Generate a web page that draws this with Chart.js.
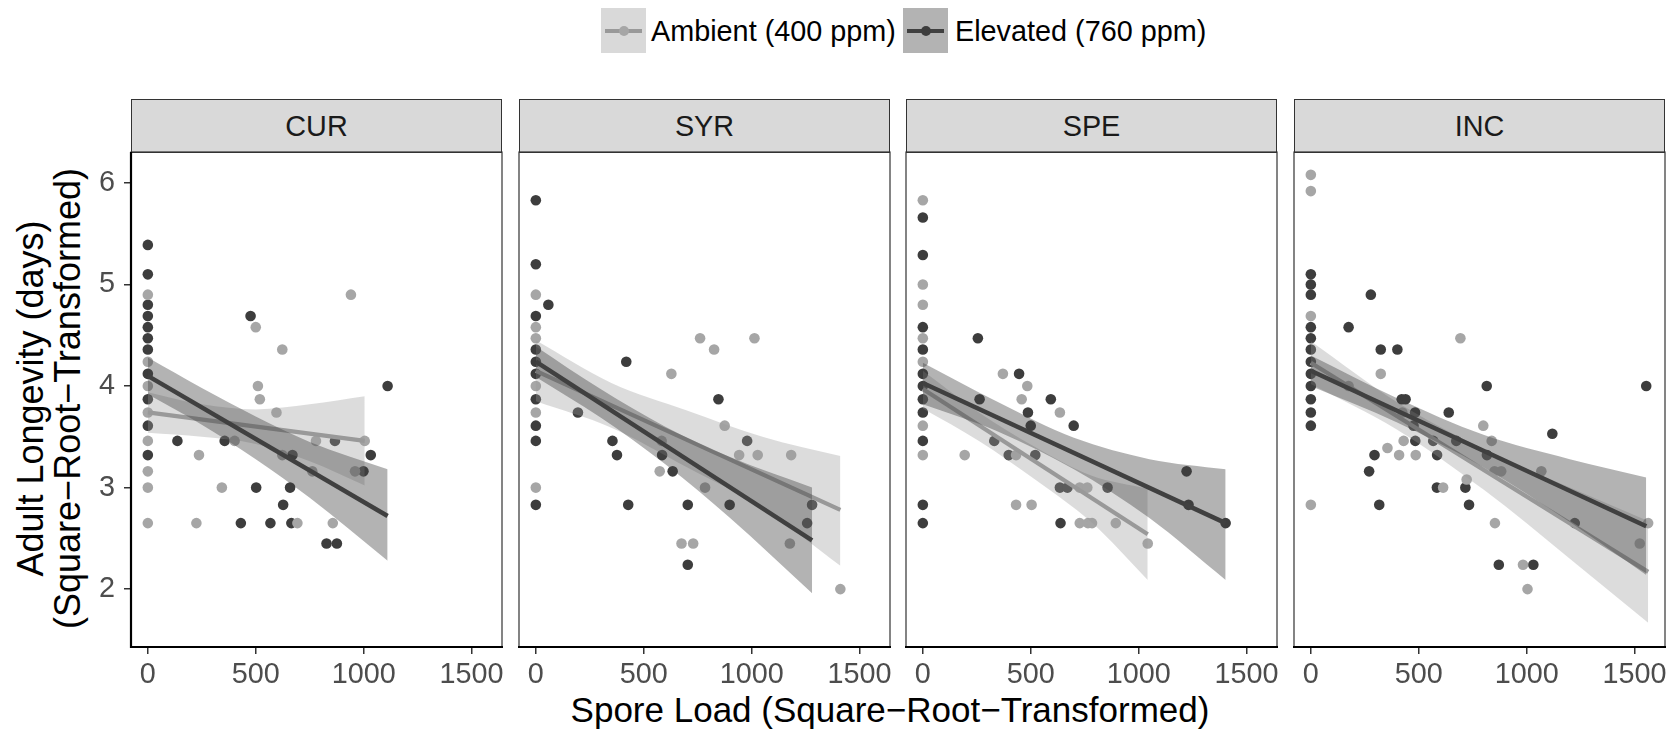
<!DOCTYPE html>
<html>
<head>
<meta charset="utf-8">
<script src="https://cdn.jsdelivr.net/npm/chart.js@4.4.1/dist/chart.umd.min.js"></script>
<style>
  body { margin: 0; background: #fff; }
  #fig { position: relative; width: 1679px; height: 733px; overflow: hidden;
         font-family: "Liberation Sans", Arial, sans-serif; }
  #fig canvas { position: absolute; }
  .key { position: absolute; top: 8px; width: 45px; height: 45px; }
  .key i { position: absolute; left: 4px; right: 4px; top: 20.5px; height: 4px; }
  .key b { position: absolute; left: 17.5px; top: 17.5px; width: 10px; height: 10px; border-radius: 50%; }
  .ltxt { position: absolute; top: 14px; font-size: 28.8px; line-height: 34px; color: #000; white-space: nowrap; }
  .strip { position: absolute; top: 99px; height: 54px; width: 371px; box-sizing: border-box;
           background: #d9d9d9; border: 1px solid #333; text-align: center;
           font-size: 28.8px; line-height: 52px; color: #1a1a1a; }
  #xtitle { position: absolute; left: 390px; width: 1000px; top: 690px; text-align: center;
            font-size: 35px; line-height: 40px; color: #000; white-space: nowrap; }
  #ytitle { position: absolute; left: -201px; top: 362px; width: 500px; height: 73px;
            text-align: center; font-size: 36px; line-height: 36.5px; color: #000;
            white-space: nowrap; transform: rotate(-90deg); }
</style>
</head>
<body>
<div id="fig">
  <div class="key" style="left:601px;background:#d9d9d9"><i style="background:#999"></i><b style="background:#a6a6a6"></b></div>
  <div class="ltxt" style="left:651px">Ambient (400 ppm)</div>
  <div class="key" style="left:903px;background:#b3b3b3"><i style="background:#404040"></i><b style="background:#3d3d3d"></b></div>
  <div class="ltxt" style="left:955px">Elevated (760 ppm)</div>
  <div id="xtitle">Spore Load (Square−Root−Transformed)</div>
  <div id="ytitle">Adult Longevity (days)<br>(Square−Root−Transformed)</div>
</div>
<script>
const panelNames = ['CUR', 'SYR', 'SPE', 'INC'];
const xTicks = [0, 500, 1000, 1500];
const yTicks = [2, 3, 4, 5, 6];

// CUR
const curAmbX = [0,0,0,0,0,0,0,0, 225,237,343,402,500,510,519,596,623,623,693,762,779,857,941,960,1005];
const curAmbY = [4.90,4.24,4.00,3.74,3.46,3.16,3.00,2.65, 2.65,3.32,3.00,3.46,4.58,4.00,3.87,3.74,4.36,3.32,2.65,3.16,3.46,2.65,4.90,3.16,3.46];
const curElvX = [0,0,0,0,0,0,0,0,0,0,0, 137,356,431,476,502,568,627,659,665,670,828,867,876,999,1033,1111];
const curElvY = [5.39,5.10,4.80,4.69,4.58,4.47,4.36,4.12,3.87,3.61,3.32, 3.46,3.46,2.65,4.69,3.00,2.65,2.83,3.00,2.65,3.32,2.45,3.46,2.45,3.16,3.32,4.00];
const curAmbFitX = [0, 1005], curAmbFitY = [3.74, 3.46];
const curElvFitX = [0, 1111], curElvFitY = [4.10, 2.72];
const curAmbBandX = [0, 250, 500, 750, 1005];
const curAmbUpper = [3.94, 3.82, 3.77, 3.82, 3.90];
const curAmbLower = [3.54, 3.50, 3.43, 3.26, 3.02];
const curElvBandX = [0, 250, 500, 750, 1111];
const curElvUpper = [4.28, 3.98, 3.70, 3.45, 3.18];
const curElvLower = [3.92, 3.62, 3.28, 2.90, 2.28];

// SYR
const syrAmbX = [0,0,0,0,0,0, 574,583,628,675,729,761,784,826,875,942,1013,1028,1177,1183,1411];
const syrAmbY = [4.90,4.58,4.47,4.00,3.74,3.00, 3.16,3.46,4.12,2.45,2.45,4.47,3.00,4.36,3.61,3.32,4.47,3.32,2.45,3.32,2.00];
const syrElvX = [0,0,0,0,0,0,0,0,0,0, 58,195,355,376,419,428,585,634,704,704,846,898,979,1257,1280];
const syrElvY = [5.83,5.20,4.69,4.36,4.24,4.12,3.87,3.61,3.46,2.83, 4.80,3.74,3.46,3.32,4.24,2.83,3.32,3.16,2.83,2.24,3.87,2.83,3.46,2.65,2.83];
const syrAmbFitX = [0, 1411], syrAmbFitY = [4.15, 2.78];
const syrElvFitX = [0, 1280], syrElvFitY = [4.24, 2.48];
const syrAmbBandX = [0, 350, 700, 1050, 1411];
const syrAmbUpper = [4.45, 4.03, 3.76, 3.50, 3.31];
const syrAmbLower = [3.85, 3.59, 3.20, 2.80, 2.23];
const syrElvBandX = [0, 300, 600, 900, 1280];
const syrElvUpper = [4.39, 3.97, 3.60, 3.30, 3.00];
const syrElvLower = [4.09, 3.69, 3.23, 2.70, 1.96];

// SPE
const speAmbX = [0,0,0,0,0,0,0, 194,371,432,432,458,484,504,635,727,727,762,765,784,894,1042];
const speAmbY = [5.83,5.00,4.80,4.47,4.24,3.61,3.32, 3.32,4.12,3.32,2.83,3.87,4.00,2.83,3.74,3.00,2.65,3.00,2.65,2.65,2.65,2.45];
const speElvX = [0,0,0,0,0,0,0,0,0,0,0, 255,263,331,398,446,487,500,521,593,635,638,670,699,856,1222,1231,1403];
const speElvY = [5.66,5.29,4.58,4.36,4.12,4.00,3.87,3.74,3.46,2.83,2.65, 4.47,3.87,3.46,3.32,4.12,3.74,3.61,3.32,3.87,3.00,2.65,3.00,3.61,3.00,3.16,2.83,2.65];
const speAmbFitX = [0, 1042], speAmbFitY = [3.97, 2.54];
const speElvFitX = [0, 1403], speElvFitY = [4.03, 2.65];
const speAmbBandX = [0, 260, 520, 780, 1042];
const speAmbUpper = [4.15, 3.74, 3.40, 3.12, 2.99];
const speAmbLower = [3.78, 3.46, 3.08, 2.66, 2.09];
const speElvBandX = [0, 350, 700, 1050, 1403];
const speElvUpper = [4.23, 3.84, 3.49, 3.28, 3.18];
const speElvLower = [3.82, 3.55, 3.18, 2.70, 2.09];

// INC
const incAmbX = [0,0,0,0, 175,324,355,409,424,430,486,613,693,722,799,838,851,853,882,983,1004,1068,1524,1563];
const incAmbY = [6.08,5.92,4.69,2.83, 4.00,4.12,3.39,3.32,3.74,3.46,3.32,3.00,4.47,3.08,3.61,3.46,3.16,2.65,3.16,2.24,2.00,3.16,2.45,2.65];
const incElvX = [0,0,0,0,0,0,0,0,0,0,0,0, 175,270,278,295,317,324,401,421,439,476,483,484,567,584,585,639,674,716,733,815,816,871,1031,1119,1223,1554];
const incElvY = [5.10,5.00,4.90,4.58,4.47,4.36,4.24,4.12,4.00,3.87,3.74,3.61, 4.58,3.16,4.90,3.32,2.83,4.36,4.36,3.87,3.87,3.61,3.74,3.46,3.46,3.00,3.32,3.74,3.46,3.00,2.83,4.00,3.32,2.24,2.24,3.53,2.65,4.00];
const incAmbFitX = [0, 1563], incAmbFitY = [4.23, 2.17];
const incElvFitX = [0, 1554], incElvFitY = [4.15, 2.62];
const incAmbBandX = [0, 400, 800, 1200, 1563];
const incAmbUpper = [4.44, 3.84, 3.38, 3.00, 2.67];
const incAmbLower = [4.02, 3.57, 2.98, 2.30, 1.67];
const incElvBandX = [0, 400, 800, 1200, 1554];
const incElvUpper = [4.30, 3.88, 3.52, 3.28, 3.10];
const incElvLower = [4.00, 3.64, 3.20, 2.66, 2.14];

const panels = [
  { ambX: curAmbX, ambY: curAmbY, elvX: curElvX, elvY: curElvY,
    ambFitX: curAmbFitX, ambFitY: curAmbFitY, elvFitX: curElvFitX, elvFitY: curElvFitY,
    ambBandX: curAmbBandX, ambUp: curAmbUpper, ambLo: curAmbLower,
    elvBandX: curElvBandX, elvUp: curElvUpper, elvLo: curElvLower },
  { ambX: syrAmbX, ambY: syrAmbY, elvX: syrElvX, elvY: syrElvY,
    ambFitX: syrAmbFitX, ambFitY: syrAmbFitY, elvFitX: syrElvFitX, elvFitY: syrElvFitY,
    ambBandX: syrAmbBandX, ambUp: syrAmbUpper, ambLo: syrAmbLower,
    elvBandX: syrElvBandX, elvUp: syrElvUpper, elvLo: syrElvLower },
  { ambX: speAmbX, ambY: speAmbY, elvX: speElvX, elvY: speElvY,
    ambFitX: speAmbFitX, ambFitY: speAmbFitY, elvFitX: speElvFitX, elvFitY: speElvFitY,
    ambBandX: speAmbBandX, ambUp: speAmbUpper, ambLo: speAmbLower,
    elvBandX: speElvBandX, elvUp: speElvUpper, elvLo: speElvLower },
  { ambX: incAmbX, ambY: incAmbY, elvX: incElvX, elvY: incElvY,
    ambFitX: incAmbFitX, ambFitY: incAmbFitY, elvFitX: incElvFitX, elvFitY: incElvFitY,
    ambBandX: incAmbBandX, ambUp: incAmbUpper, ambLo: incAmbLower,
    elvBandX: incElvBandX, elvUp: incElvUpper, elvLo: incElvLower }
];

const FONT = '"Liberation Sans", Arial, sans-serif';
const panelLeft = [131, 519, 906, 1294];
const PANEL_W = 371, PANEL_H = 495, PANEL_TOP = 152;
const PAD_T = 6, PAD_R = 40, Y_AXIS_W = 75, X_AXIS_H = 50;
const fig = document.getElementById('fig');

const toXY = (xs, ys) => xs.map((x, k) => ({ x: x, y: ys[k] }));

// panel border + axis lines
const panelFrame = {
  id: 'panelFrame',
  afterDraw(chart, args, opts) {
    const { ctx, chartArea: a } = chart;
    ctx.save();
    ctx.strokeStyle = '#333';
    ctx.lineWidth = 1.2;
    ctx.strokeRect(a.left, a.top, a.right - a.left, a.bottom - a.top);
    ctx.strokeStyle = '#000';
    ctx.lineWidth = 2.2;
    ctx.beginPath();
    ctx.moveTo(a.left - 1, a.bottom);
    ctx.lineTo(a.right + 1, a.bottom);
    if (opts.leftAxis) {
      ctx.moveTo(a.left, a.top);
      ctx.lineTo(a.left, a.bottom + 1);
    }
    ctx.stroke();
    ctx.restore();
  }
};

function band(xs, ys, color, fill, order) {
  return {
    data: toXY(xs, ys), showLine: true, borderWidth: 0, pointRadius: 0,
    backgroundColor: color, fill: fill, tension: 0.4,
    cubicInterpolationMode: 'monotone', order: order
  };
}

// keep the plot area fixed: no extra room for half tick labels
function noPad(ax) {
  ax.paddingTop = 0; ax.paddingBottom = 0;
  ax.paddingLeft = 0; ax.paddingRight = 0;
}

panels.forEach((p, i) => {
  const showY = i === 0;
  const padL = showY ? 0 : 6;
  const leftW = showY ? Y_AXIS_W : padL;

  const strip = document.createElement('div');
  strip.className = 'strip';
  strip.style.left = panelLeft[i] + 'px';
  strip.textContent = panelNames[i];
  fig.appendChild(strip);

  const canvas = document.createElement('canvas');
  canvas.width = leftW + PANEL_W + PAD_R;
  canvas.height = PAD_T + PANEL_H + X_AXIS_H;
  canvas.style.left = (panelLeft[i] - leftW) + 'px';
  canvas.style.top = (PANEL_TOP - PAD_T) + 'px';
  fig.appendChild(canvas);

  new Chart(canvas, {
    type: 'line',
    data: {
      datasets: [
        { data: toXY(p.elvX, p.elvY), showLine: false, pointRadius: 5.3, pointBorderWidth: 0,
          pointBackgroundColor: '#3d3d3d', order: 6 },
        { data: toXY(p.ambX, p.ambY), showLine: false, pointRadius: 5.3, pointBorderWidth: 0,
          pointBackgroundColor: '#a6a6a6', order: 5 },
        band(p.ambBandX, p.ambUp, 'rgba(153,153,153,0.34)', '+1', 4),
        band(p.ambBandX, p.ambLo, 'rgba(153,153,153,0.34)', false, 4),
        { data: toXY(p.ambFitX, p.ambFitY), borderColor: '#999999', borderWidth: 4.2,
          pointRadius: 0, fill: false, order: 3 },
        band(p.elvBandX, p.elvUp, 'rgba(64,64,64,0.4)', '+1', 2),
        band(p.elvBandX, p.elvLo, 'rgba(64,64,64,0.4)', false, 2),
        { data: toXY(p.elvFitX, p.elvFitY), borderColor: '#404040', borderWidth: 4.5,
          pointRadius: 0, fill: false, order: 1 }
      ]
    },
    options: {
      responsive: false,
      animation: false,
      devicePixelRatio: 1,
      events: [],
      layout: { autoPadding: false, padding: { left: padL, right: PAD_R, top: PAD_T, bottom: 0 } },
      plugins: { legend: { display: false }, tooltip: { enabled: false },
                 panelFrame: { leftAxis: showY } },
      scales: {
        x: {
          type: 'linear', min: -78, max: 1641,
          afterBuildTicks: ax => { ax.ticks = xTicks.map(v => ({ value: v })); },
          afterFit: ax => { ax.height = X_AXIS_H; noPad(ax); },
          grid: { drawOnChartArea: false, drawTicks: true, tickLength: 7, color: '#333', lineWidth: 1.5 },
          border: { display: false },
          ticks: { color: '#4d4d4d', font: { family: FONT, size: 28.8 }, padding: 4,
                   maxRotation: 0, autoSkip: false, callback: v => String(v) }
        },
        y: {
          type: 'linear', min: 1.43, max: 6.305, display: showY,
          afterBuildTicks: ax => { ax.ticks = yTicks.map(v => ({ value: v })); },
          afterFit: ax => { ax.width = showY ? Y_AXIS_W : 0; noPad(ax); },
          grid: { drawOnChartArea: false, drawTicks: true, tickLength: 7, color: '#333', lineWidth: 1.5 },
          border: { display: false },
          ticks: { color: '#4d4d4d', font: { family: FONT, size: 28.8 }, padding: 9,
                   autoSkip: false, callback: v => String(v) }
        }
      }
    },
    plugins: [panelFrame]
  });
});
</script>
</body>
</html>
